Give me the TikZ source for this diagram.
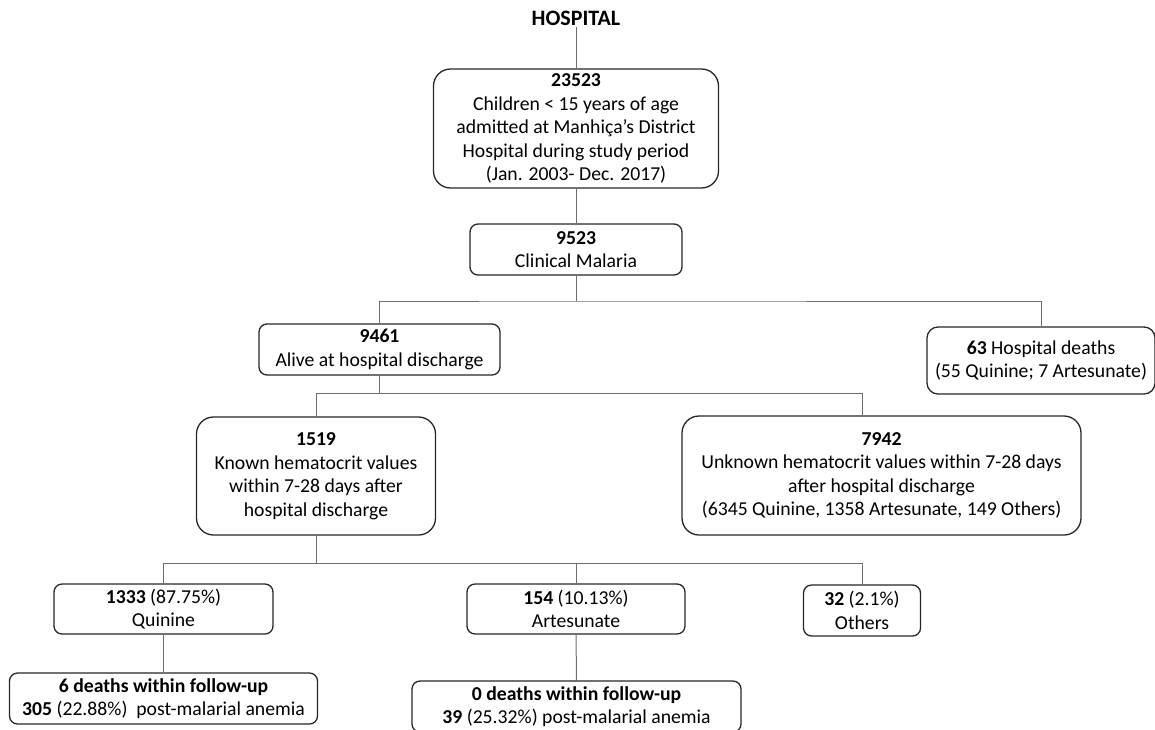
\documentclass[tikz,border=0pt]{standalone}
\usepackage{fontspec}
\setmainfont{Carlito}
\definecolor{linegray}{RGB}{110,110,110}
\definecolor{boxline}{RGB}{38,38,38}
\tikzset{
  box/.style={draw=boxline, line width=1.3pt, rounded corners=8pt, align=center, inner sep=0pt,
    font=\fontsize{19.7}{23.5}\selectfont},
  bigbox/.style={box, rounded corners=17pt},
  link/.style={draw=linegray, line width=1pt}
}

\begin{document}
\begin{tikzpicture}[x=1pt, y=-1pt]
  %flowchart, hospital cohort
    \useasboundingbox (0,0) rectangle (1155,729);

    \node[font=\fontsize{22}{26}\selectfont\bfseries, inner sep=2pt] (hosp) at (576,18) {HOSPITAL};
    \node[bigbox, minimum width=285pt, minimum height=119pt] (adm) at (576,128.5)
      {\textbf{23523}\\Children < 15 years of age\\admitted at Manhiça’s District\\Hospital during study period\\(Jan. 2003- Dec. 2017)};
    \node[box, minimum width=212pt, minimum height=51pt] (mal) at (576,249.5)
      {\textbf{9523}\\Clinical Malaria};

    \node[box, minimum width=241pt, minimum height=51pt] (alive) at (379.5,349.5)
      {\textbf{9461}\\Alive at hospital discharge};
    \node[box, rounded corners=11pt, minimum width=228pt, minimum height=67pt] (dead) at (1041,360.5)
      {\textbf{63} Hospital deaths\\(55 Quinine; 7 Artesunate)};

    \node[bigbox, minimum width=239pt, minimum height=118pt] (known) at (316,476)
      {\textbf{1519}\\Known hematocrit values\\within 7-28 days after\\hospital discharge};
    \node[bigbox, minimum width=399pt, minimum height=119pt] (unknown) at (881.5,475.5)
      {\textbf{7942}\\Unknown hematocrit values within 7-28 days\\after hospital discharge\\(6345 Quinine, 1358 Artesunate, 149 Others)};

    \node[box, minimum width=219pt, minimum height=50pt] (quin) at (163.5,609)
      {\textbf{1333} (87.75\%)\\Quinine};
    \node[box, minimum width=218pt, minimum height=50pt] (art) at (576,609)
      {\textbf{154} (10.13\%)\\Artesunate};
    \node[box, minimum width=117pt, minimum height=51pt] (oth) at (862,610.5)
      {\textbf{32} (2.1\%)\\Others};

    \node[box, minimum width=308pt, minimum height=51pt] (qdeath) at (163.5,698.5)
      {\textbf{6 deaths within follow-up}\\\textbf{305} (22.88\%)~ post-malarial anemia};
    \node[box, minimum width=329pt, minimum height=51pt] (adeath) at (576.5,706.5)
      {\textbf{0 deaths within follow-up}\\\textbf{39} (25.32\%) post-malarial anemia};

    \coordinate (j1) at (576,301);
    \coordinate (j2) at (379.5,393);
    \coordinate (j3) at (316,563);

    \draw[link] (hosp) -- (adm);
    \draw[link] (adm) -- (mal);
    \draw[link] (mal) -- (j1);
    \draw[link] (alive.north) |- (j1) -| (dead.north);
    \draw[link] (alive) -- (j2);
    \draw[link] (known.north) |- (j2) -| (oth.north |- unknown.north);
    \draw[link] (known) -- (j3);
    \draw[link] (quin.north) |- (j3) -| (oth.north);
    \draw[link] (art.north |- j3) -- (art.north);
    \draw[link] (quin) -- (qdeath);
    \draw[link] (art) -- (adeath);

  \end{tikzpicture}
\end{document}
